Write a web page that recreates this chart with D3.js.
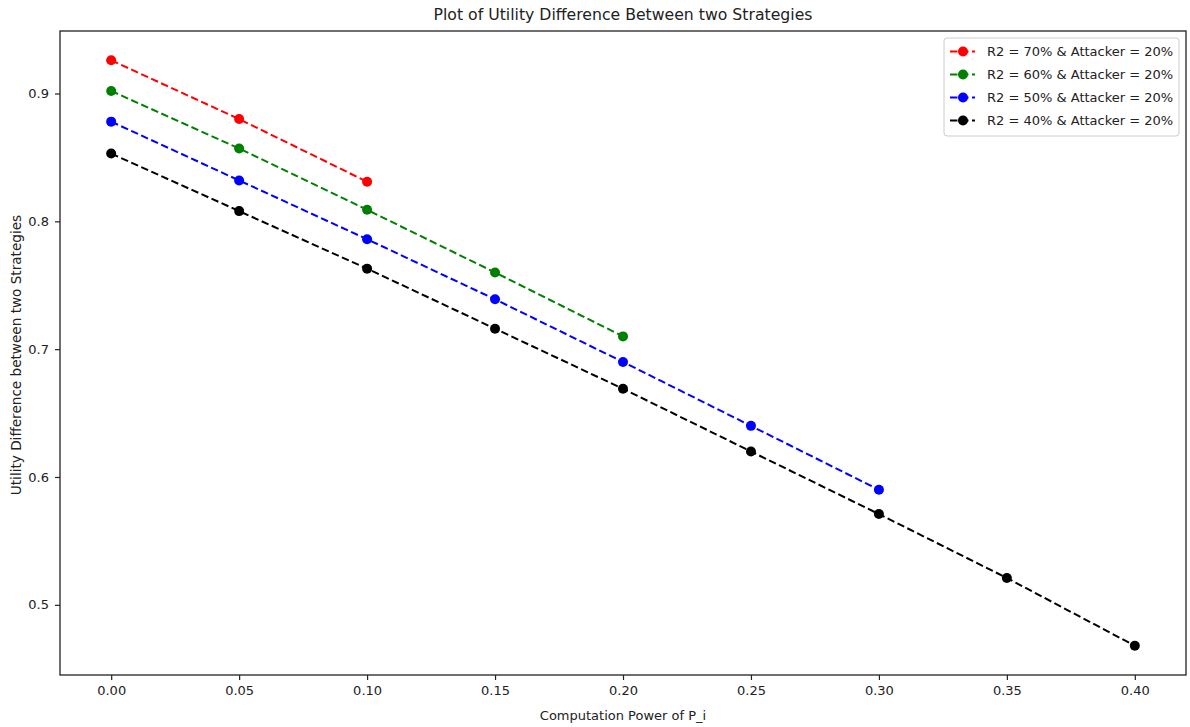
<!DOCTYPE html>
<html>
<head>
<meta charset="utf-8">
<script src="https://cdn.jsdelivr.net/npm/d3@7"></script>
<style>
  body { margin: 0; background: #fff; }
  svg { font-family: "DejaVu Sans", sans-serif; }
</style>
</head>
<body>
<svg width="1190" height="727"></svg>
<script>
// x positions (computation power of P_i)
const xVals = [0.00, 0.05, 0.10, 0.15, 0.20, 0.25, 0.30, 0.35, 0.40]

// utility difference, one array per R2 setting
const r2_70 = [0.926, 0.880, 0.831]
const r2_60 = [0.902, 0.857, 0.809, 0.760, 0.710]
const r2_50 = [0.878, 0.832, 0.786, 0.739, 0.690, 0.640, 0.590]
const r2_40 = [0.853, 0.808, 0.763, 0.716, 0.669, 0.620, 0.571, 0.521, 0.468]

const seriesNames = ["R2 = 70% & Attacker = 20%", "R2 = 60% & Attacker = 20%",
                     "R2 = 50% & Attacker = 20%", "R2 = 40% & Attacker = 20%"]
const seriesColors = ["#ff0000", "#008000", "#0000ff", "#000000"]

const xTicks = [0.00, 0.05, 0.10, 0.15, 0.20, 0.25, 0.30, 0.35, 0.40]
const yTicks = [0.5, 0.6, 0.7, 0.8, 0.9]

const series = [r2_70, r2_60, r2_50, r2_40].map((vals, i) => ({
    name: seriesNames[i],
    color: seriesColors[i],
    points: vals.map((v, j) => ({x: xVals[j], y: v}))
}))

var margin = {top: 31, right: 4, bottom: 52, left: 60}
var width = 1190, height = 727

var svg = d3.select("svg")

// matplotlib style 5% padding on both axes
var allY = series.flatMap(s => s.points.map(p => p.y))
var yMin = d3.min(allY), yMax = d3.max(allY)
var yPad = (yMax - yMin) * 0.05
var xPad = 0.4 * 0.05

var x = d3.scaleLinear()
    .domain([0 - xPad, 0.4 + xPad])
    .range([margin.left, width - margin.right])

var y = d3.scaleLinear()
    .domain([yMin - yPad, yMax + yPad])
    .range([height - margin.bottom, margin.top])

var xAxis = g => g
    .attr("transform", `translate(0,${height - margin.bottom})`)
    .call(d3.axisBottom(x).tickValues(xTicks).tickFormat(d3.format(".2f")).tickSizeInner(5).tickSizeOuter(0).tickPadding(6))
    .call(g => g.select(".domain").remove())

var yAxis = g => g
    .attr("transform", `translate(${margin.left},0)`)
    .call(d3.axisLeft(y).tickValues(yTicks).tickFormat(d3.format(".1f")).tickSizeInner(5).tickSizeOuter(0).tickPadding(6))
    .call(g => g.select(".domain").remove())

svg.append("g").call(xAxis)
svg.append("g").call(yAxis)

svg.selectAll(".tick text").attr("font-size", 13).attr("fill", "#222").attr("font-family", "DejaVu Sans")
svg.selectAll(".tick line").attr("stroke", "#222").attr("stroke-width", 1.2)

var line = d3.line().x(d => x(d.x)).y(d => y(d.y))

var sg = svg.append("g")
    .selectAll("g")
    .data(series)
    .join("g")

sg.append("path")
    .attr("d", d => line(d.points))
    .attr("fill", "none")
    .attr("stroke", d => d.color)
    .attr("stroke-width", 2)
    .attr("stroke-dasharray", "7.5,3.5")

sg.selectAll("circle")
    .data(d => d.points.map(p => ({...p, color: d.color})))
    .join("circle")
    .attr("cx", d => x(d.x))
    .attr("cy", d => y(d.y))
    .attr("r", 5)
    .attr("fill", d => d.color)

// frame
svg.append("rect")
    .attr("x", margin.left)
    .attr("y", margin.top)
    .attr("width", width - margin.left - margin.right)
    .attr("height", height - margin.top - margin.bottom)
    .attr("fill", "none")
    .attr("stroke", "#222")
    .attr("stroke-width", 1.3)

// title & axis labels
svg.append("text")
    .attr("x", (margin.left + width - margin.right) / 2)
    .attr("y", 20)
    .attr("text-anchor", "middle")
    .attr("font-size", 15.7)
    .attr("fill", "#222")
    .text("Plot of Utility Difference Between two Strategies")

svg.append("text")
    .attr("x", (margin.left + width - margin.right) / 2)
    .attr("y", 720)
    .attr("text-anchor", "middle")
    .attr("font-size", 13)
    .attr("fill", "#222")
    .text("Computation Power of P_i")

svg.append("text")
    .attr("transform", `translate(21,${(margin.top + height - margin.bottom) / 2 + 2}) rotate(-90)`)
    .attr("text-anchor", "middle")
    .attr("font-size", 13.6)
    .attr("fill", "#222")
    .text("Utility Difference between two Strategies")

// legend
var legend = svg.append("g").attr("transform", "translate(944,38)")

legend.append("rect")
    .attr("width", 235)
    .attr("height", 98)
    .attr("rx", 3)
    .attr("fill", "#fff")
    .attr("fill-opacity", 0.8)
    .attr("stroke", "#ccc")

var li = legend.selectAll(".item")
    .data(series)
    .join("g")
    .attr("class", "item")
    .attr("transform", (d, i) => `translate(0,${13.5 + i * 23})`)

li.append("line")
    .attr("x1", 6).attr("x2", 31)
    .attr("stroke", d => d.color)
    .attr("stroke-width", 2)
    .attr("stroke-dasharray", "7.5,3.5")

li.append("circle")
    .attr("cx", 19)
    .attr("r", 5)
    .attr("fill", d => d.color)

li.append("text")
    .attr("x", 43)
    .attr("dy", "0.35em")
    .attr("font-size", 13)
    .attr("fill", "#222")
    .text(d => d.name)
</script>
</body>
</html>
